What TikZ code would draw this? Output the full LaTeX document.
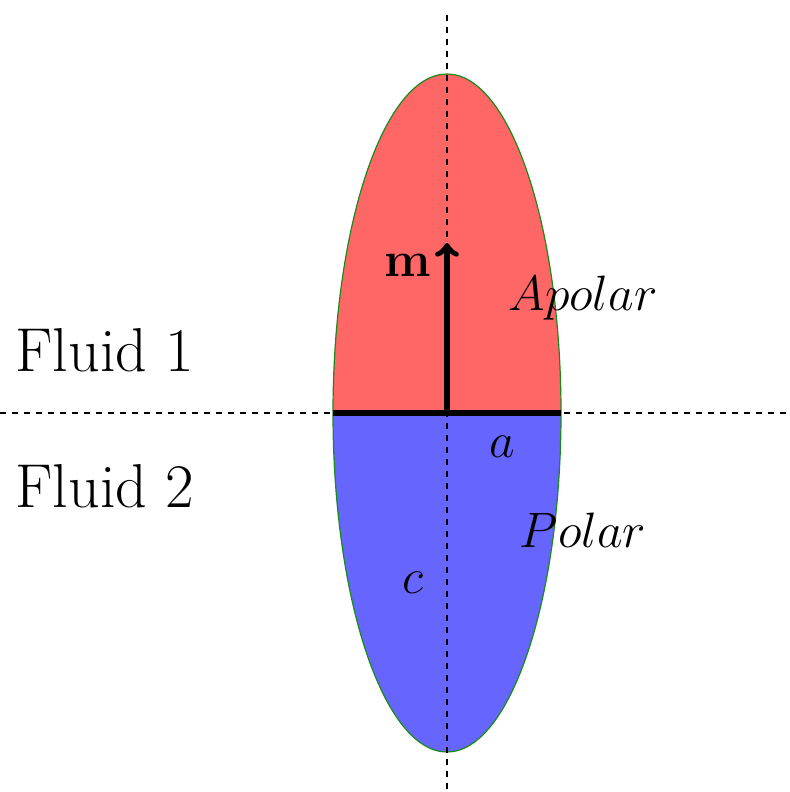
\documentclass[tikz,border=0pt]{standalone}
\usepackage{tikz}
\usepackage{xcolor}
\definecolor{apolarcolor}{HTML}{ff6666}
\definecolor{polarcolor}{HTML}{6666ff}
\definecolor{rimcolor}{HTML}{1a8a1a}
\begin{document}
\begin{tikzpicture}[x=0.5pt, y=-0.5pt, font=\fontsize{25}{30}\selectfont]
        \useasboundingbox (0, 0) rectangle (790, 792);
        % Halves of the ellipse
        \fill [polarcolor] (333, 413) arc [start angle = 180, end angle = 360, x radius = 114, y radius = -339] -- cycle;
        \fill [apolarcolor] (333, 413) arc [start angle = 180, end angle = 0, x radius = 114, y radius = -339] -- cycle;
        \draw [rimcolor, line width = 0.6pt] (447, 413) ellipse [x radius = 114, y radius = 339];

        % Axes
        \draw [dashed, line width = 0.6pt] (0, 413) -- (790, 413);
        \draw [dashed, line width = 0.6pt] (447, 15) -- (447, 790);

        % Nodes
        \coordinate (o) at (447, 413);
        \coordinate (tip) at (447, 243);
        \coordinate (left) at (333, 413);
        \coordinate (right) at (561, 413);
        \draw [line width = 3pt] (left) -- (right);
        \draw [->, line width = 3pt] (o) -- (tip);

        % Labels
        \node (m) at (408, 265) {$\mathbf{m}$};
        \node (apolar) at (583, 298) {$Apolar$};
        \node (polar) at (583, 530) {$Polar$};
        \node [font = \fontsize{30}{36}\selectfont] (a) at (502, 447) {$a$};
        \node [font = \fontsize{30}{36}\selectfont] (c) at (413, 583) {$c$};
        \node [font = \fontsize{31}{36}\selectfont] (f1) at (105, 350) {Fluid 1};
        \node [font = \fontsize{31}{36}\selectfont] (f2) at (105, 486) {Fluid 2};
    \end{tikzpicture}
\end{document}
